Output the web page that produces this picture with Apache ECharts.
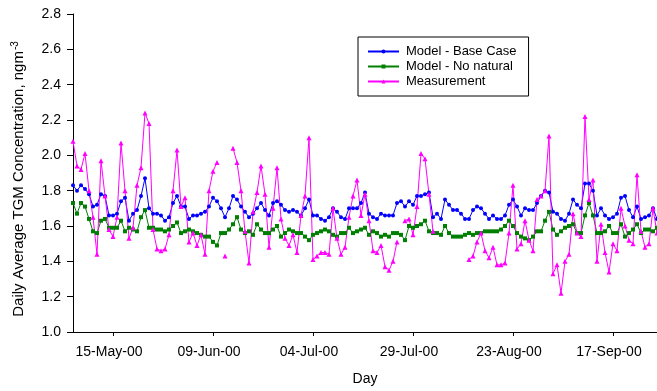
<!DOCTYPE html>
<html>
<head>
<meta charset="utf-8">
<title>Daily Average TGM Concentration</title>
<script src="https://cdn.jsdelivr.net/npm/echarts@6/dist/echarts.min.js"></script>
<style>
  html, body { margin: 0; padding: 0; background: #fff; }
  #chart { width: 657px; height: 391px; }
</style>
</head>
<body>
<div id="chart"></div>
<script>
// Daily series, 05-May-2000 through 28-Sep-2000 (one value per day)
const startDate = [2000, 4, 5];   // year, month index, day
const dayCount = 147;

const baseCase = [
  1.83, 1.80, 1.83, 1.81, 1.78, 1.71, 1.72, 1.78, 1.77, 1.66,
  1.66, 1.67, 1.74, 1.76, 1.63, 1.67, 1.69, 1.77, 1.87, 1.70,
  1.67, 1.67, 1.66, 1.63, 1.65, 1.73, 1.77, 1.71, 1.71, 1.64,
  1.66, 1.66, 1.67, 1.68, 1.71, 1.76, 1.74, 1.70, 1.65, 1.70,
  1.77, 1.75, 1.71, 1.68, 1.65, 1.67, 1.70, 1.73, 1.69, 1.66,
  1.73, 1.74, 1.72, 1.69, 1.68, 1.69, 1.68, 1.66, 1.70, 1.75,
  1.66, 1.66, 1.64, 1.63, 1.65, 1.70, 1.68, 1.65, 1.64, 1.70,
  1.70, 1.70, 1.73, 1.79, 1.67, 1.65, 1.64, 1.67, 1.66, 1.66,
  1.66, 1.73, 1.74, 1.71, 1.74, 1.72, 1.77, 1.77, 1.78, 1.79,
  1.65, 1.67, 1.64, 1.75, 1.72, 1.69, 1.69, 1.67, 1.64, 1.64,
  1.69, 1.71, 1.70, 1.67, 1.64, 1.66, 1.64, 1.64, 1.66, 1.72,
  1.75, 1.71, 1.66, 1.70, 1.69, 1.69, 1.73, 1.77, 1.80, 1.79,
  1.68, 1.67, 1.64, 1.63, 1.67, 1.75, 1.72, 1.70, 1.84, 1.84,
  1.80, 1.66, 1.70, 1.66, 1.64, 1.65, 1.67, 1.76, 1.77, 1.69,
  1.65, 1.71, 1.64, 1.65, 1.66, 1.70, 1.64
];

const noNatural = [
  1.73, 1.67, 1.73, 1.71, 1.64, 1.57, 1.56, 1.63, 1.64, 1.59,
  1.59, 1.59, 1.63, 1.57, 1.59, 1.58, 1.57, 1.65, 1.69, 1.59,
  1.59, 1.58, 1.58, 1.57, 1.58, 1.60, 1.62, 1.56, 1.57, 1.58,
  1.57, 1.56, 1.55, 1.54, 1.54, 1.51, 1.49, 1.56, 1.56, 1.58,
  1.61, 1.65, 1.58, 1.56, 1.57, 1.55, 1.61, 1.58, 1.56, 1.56,
  1.58, 1.60, 1.54, 1.56, 1.58, 1.57, 1.56, 1.56, 1.54, 1.52,
  1.55, 1.56, 1.57, 1.58, 1.57, 1.55, 1.54, 1.56, 1.56, 1.59,
  1.56, 1.57, 1.58, 1.59, 1.55, 1.57, 1.56, 1.54, 1.55, 1.54,
  1.56, 1.56, 1.55, 1.52, 1.60, 1.59, 1.60, 1.61, 1.63, 1.57,
  1.56, 1.56, 1.55, 1.60, 1.56, 1.54, 1.54, 1.54, 1.55, 1.56,
  1.55, 1.56, 1.56, 1.57, 1.57, 1.57, 1.57, 1.58, 1.60, 1.63,
  1.60, 1.56, 1.54, 1.53, 1.52, 1.54, 1.57, 1.57, 1.63, 1.68,
  1.58, 1.55, 1.57, 1.59, 1.60, 1.61, 1.56, 1.56, 1.66, 1.73,
  1.66, 1.56, 1.56, 1.57, 1.60, 1.56, 1.56, 1.61, 1.54, 1.56,
  1.58, 1.61, 1.56, 1.58, 1.58, 1.57, 1.59
];

// null = no measurement that day
const measurement = [
  2.08, 1.94, 1.92, 2.01, 1.80, 1.65, 1.44, 1.97, 1.77, 1.58,
  1.54, 1.65, 2.07, 1.80, 1.53, 1.59, 1.83, 1.93, 2.24, 2.18,
  1.58, 1.47, 1.46, 1.47, 1.55, 1.80, 2.03, 1.71, 1.76, 1.51,
  1.56, 1.49, 1.55, 1.44, 1.80, 1.91, 1.96, null, 1.43, null,
  2.04, 1.96, 1.80, 1.57, 1.39, 1.68, 1.79, 1.94, 1.78, 1.48,
  1.70, 1.93, 1.64, 1.53, 1.49, 1.55, 1.45, 1.66, 1.77, 2.10,
  1.41, 1.43, 1.45, 1.45, 1.44, 1.70, 1.53, 1.44, 1.48, 1.65,
  1.77, 1.86, 1.66, 1.78, 1.63, 1.46, 1.45, 1.49, 1.37, 1.35,
  1.40, 1.51, null, 1.63, 1.64, 1.55, 1.71, 2.01, 1.98, 1.78,
  1.57, null, null, null, null, null, null, null, null, 1.41,
  1.43, 1.51, 1.56, 1.46, 1.42, 1.48, 1.38, 1.38, 1.39, 1.56,
  1.83, 1.47, 1.50, 1.63, 1.52, 1.46, 1.75, 1.77, 1.80, 2.11,
  1.33, 1.38, 1.22, 1.40, 1.44, 1.67, 1.56, 1.54, 2.22, 1.75,
  1.86, 1.40, 1.61, 1.45, 1.34, 1.50, 1.46, 1.70, 1.60, 1.52,
  1.50, 1.89, 1.57, 1.48, 1.50, 1.70, 1.56
];

const seriesNames = ['Model - Base Case', 'Model - No natural', 'Measurement'];
const seriesColors = ['#0000FF', '#008000', '#FF00FF'];

// Labelled days: 15-May-00 and every 25 days after
const firstLabelIndex = 10;
const labelStep = 25;

const monthNames = ['Jan','Feb','Mar','Apr','May','Jun','Jul','Aug','Sep','Oct','Nov','Dec'];
function dayLabel(i) {
  const d = new Date(Date.UTC(startDate[0], startDate[1], startDate[2] + i));
  const dd = String(d.getUTCDate()).padStart(2, '0');
  const yy = String(d.getUTCFullYear() % 100).padStart(2, '0');
  return dd + '-' + monthNames[d.getUTCMonth()] + '-' + yy;
}
const days = [];
for (let i = 0; i < dayCount; i++) days.push(dayLabel(i));

const isLabelled = (idx) => idx >= firstLabelIndex && (idx - firstLabelIndex) % labelStep === 0;

const FONT = 'Liberation Sans, Arial, sans-serif';

const chart = echarts.init(document.getElementById('chart'), null, { renderer: 'canvas' });

const symbols = ['circle', 'rect', 'triangle'];
const dataSets = [baseCase, noNatural, measurement];

chart.setOption({
  animation: false,
  backgroundColor: '#fff',
  grid: { left: 73, right: 0, top: 14, bottom: 55, containLabel: false },
  legend: {
    orient: 'vertical',
    left: 358,
    top: 37,
    padding: [7, 12, 7, 9],
    itemWidth: 31,
    itemHeight: 5,
    itemGap: 0,
    borderColor: '#000',
    borderWidth: 1,
    borderRadius: 0,
    backgroundColor: '#fff',
    textStyle: { fontFamily: FONT, fontSize: 13, color: '#000', lineHeight: 15, padding: [0, 0, 0, 2] },
    data: seriesNames
  },
  xAxis: {
    type: 'category',
    data: days,
    boundaryGap: false,
    name: 'Day',
    nameLocation: 'middle',
    nameGap: 40,
    nameTextStyle: { fontFamily: FONT, fontSize: 14, color: '#000' },
    axisLine: { show: true, onZero: false, lineStyle: { color: '#000', width: 1 } },
    axisTick: { show: true, length: 4, interval: (idx) => isLabelled(idx), lineStyle: { color: '#000' } },
    axisLabel: {
      interval: (idx) => isLabelled(idx),
      fontFamily: FONT, fontSize: 14, color: '#000', margin: 13,
      padding: [0, 8, 0, 0]
    },
    splitLine: { show: false }
  },
  yAxis: {
    type: 'value',
    min: 1.0,
    max: 2.8,
    interval: 0.2,
    name: 'Daily Average TGM Concentration, ngm{sup|-3}',
    nameLocation: 'middle',
    nameGap: 46,
    nameTextStyle: {
      fontFamily: FONT, fontSize: 15, color: '#000', lineHeight: 17,
      padding: [0, 12, 0, 0],
      rich: {
        sup: { fontFamily: FONT, fontSize: 10, color: '#000', verticalAlign: 'top', lineHeight: 17, padding: [0, 0, 8, 1] }
      }
    },
    axisLine: { show: true, lineStyle: { color: '#000', width: 1 } },
    axisTick: { show: true, length: 6, lineStyle: { color: '#000' } },
    axisLabel: {
      fontFamily: FONT, fontSize: 14, color: '#000', margin: 12,
      formatter: (v) => v.toFixed(1)
    },
    splitLine: { show: false }
  },
  series: seriesNames.map((name, k) => ({
    name: name,
    type: 'line',
    data: dataSets[k],
    symbol: symbols[k],
    symbolSize: k === 2 ? 5 : 4,
    showAllSymbol: true,
    connectNulls: false,
    lineStyle: { color: seriesColors[k], width: 1 },
    itemStyle: { color: seriesColors[k] },
    emphasis: { disabled: true }
  }))
});
</script>
</body>
</html>
